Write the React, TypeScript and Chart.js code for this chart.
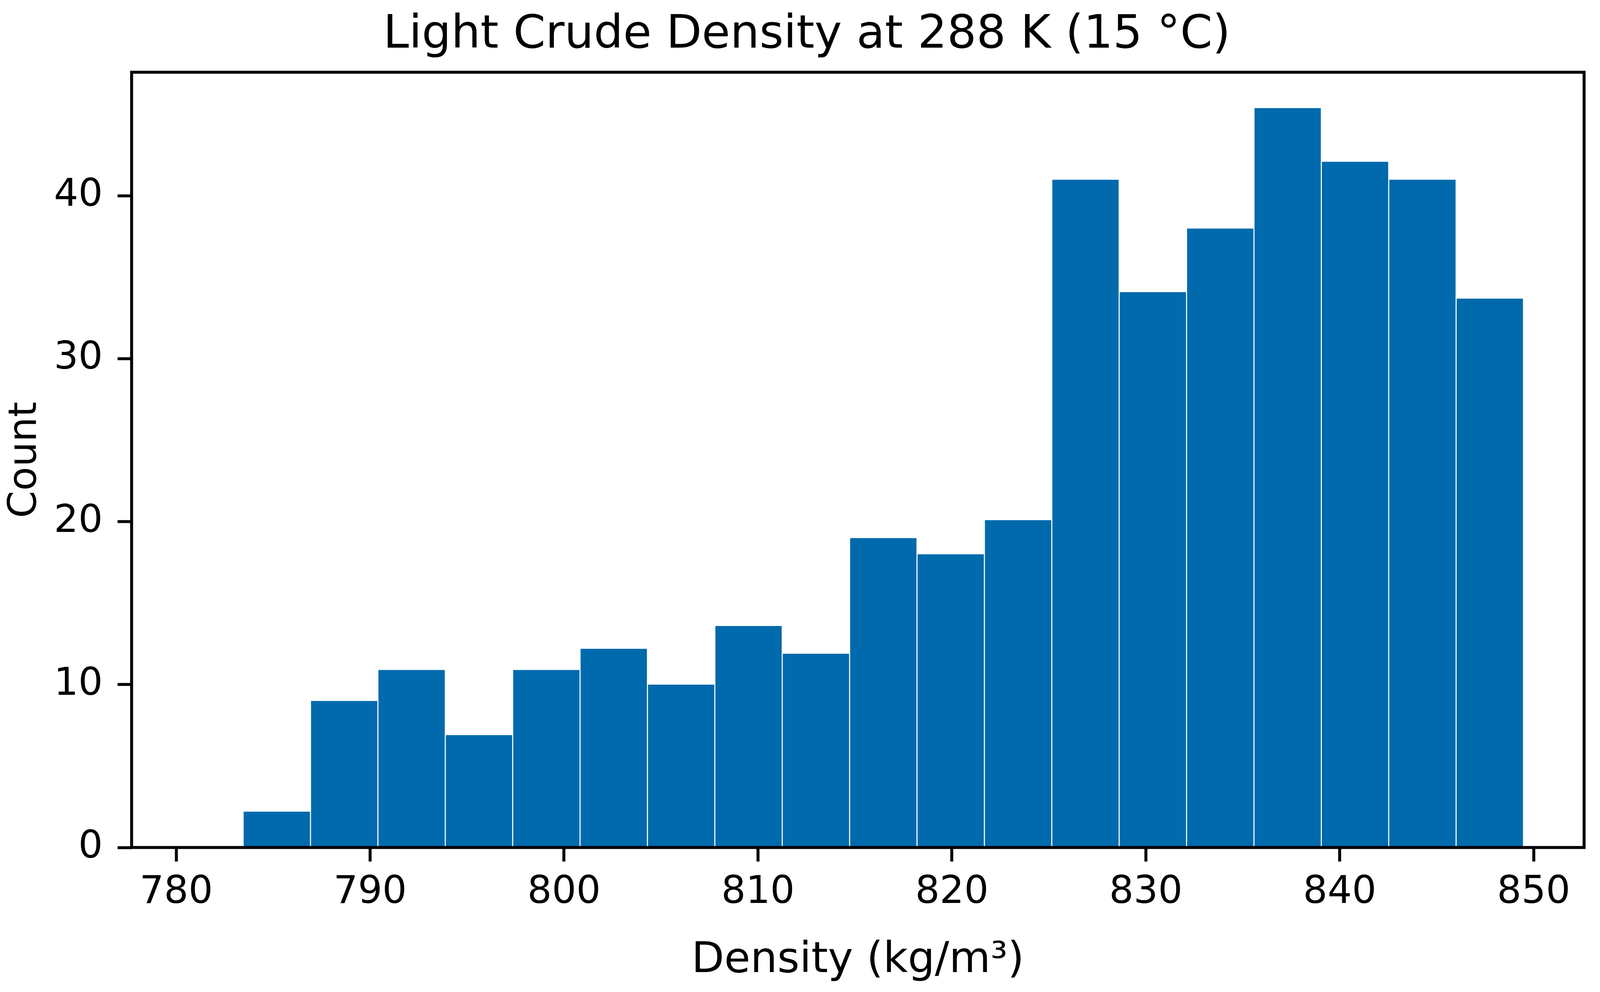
import { useEffect, useRef } from "react"
import { Chart, registerables } from "chart.js"

Chart.register(...registerables)

// histogram bins (kg/m3), 19 bins
const binEdges = [
  783.45, 786.925, 790.4, 793.875, 797.35, 800.825, 804.3, 807.775, 811.25, 814.725,
  818.2, 821.675, 825.15, 828.625, 832.1, 835.575, 839.05, 842.525, 846.0, 849.475,
]
const counts = [
  2.2, 9.0, 10.9, 6.9, 10.9, 12.2, 10.0, 13.6, 11.9, 19.0,
  18.0, 20.1, 41.0, 34.1, 38.0, 45.4, 42.1, 41.0, 33.7,
]
const xTicks = [780, 790, 800, 810, 820, 830, 840, 850]
const yTicks = [0, 10, 20, 30, 40]

// reference frame size the layout numbers below were measured in
const W = 4328
const H = 2540

const DensityHistogram = () => {
  const boxRef = useRef<HTMLDivElement>(null)
  const chartRef = useRef<HTMLCanvasElement>(null)
  const chartInstance = useRef<Chart | null>(null)

  useEffect(() => {
    document.body.style.margin = "0"
    document.documentElement.style.overflow = "hidden"
    if (!chartRef.current || !boxRef.current) return

    if (chartInstance.current) {
      chartInstance.current.destroy()
    }

    const ctx = chartRef.current.getContext("2d")
    if (!ctx) return

    // scale measured sizes to whatever the page actually is
    const sx = boxRef.current.clientWidth / W
    const sy = boxRef.current.clientHeight / H
    const k = Math.min(sx, sy)

    const centers = counts.map((_, i) => (binEdges[i] + binEdges[i + 1]) / 2)

    const framePlugin = {
      id: "frame",
      afterDatasetsDraw(chart: Chart) {
        const { left, top, right, bottom } = chart.chartArea
        const c = chart.ctx
        c.save()
        c.strokeStyle = "#000000"
        c.lineWidth = 8 * k
        c.strokeRect(left, top, right - left, bottom - top)
        c.restore()
      },
    }

    const yTitleSize = 106 * k
    // left padding pushes the centred title a bit right, like the reference
    const padLeft = 80 * sx

    chartInstance.current = new Chart(ctx, {
      type: "bar",
      data: {
        datasets: [
          {
            label: "Count",
            data: counts.map((c, i) => ({ x: centers[i], y: c })),
            backgroundColor: "#006aad",
            borderColor: "#ffffff",
            borderWidth: { left: 1.8 * k, right: 1.8 * k, top: 0, bottom: 0 },
            barPercentage: 1,
            categoryPercentage: 1,
          },
        ],
      },
      options: {
        responsive: true,
        maintainAspectRatio: false,
        animation: false,
        events: [],
        layout: { padding: { left: padLeft, right: 43 * sx, top: 0, bottom: 0 } },
        plugins: {
          legend: { display: false },
          tooltip: { enabled: false },
          title: {
            display: true,
            text: "Light Crude Density at 288 K (15 °C)",
            color: "#000000",
            font: { family: "DejaVu Sans", size: 125 * k, weight: "normal", lineHeight: 1.2 },
            padding: { top: 20 * sy, bottom: 23 * sy },
          },
        },
        scales: {
          x: {
            type: "linear",
            min: 777.7,
            max: 852.6,
            offset: false,
            afterBuildTicks: (scale) => {
              scale.ticks = xTicks.map((v) => ({ value: v }))
            },
            afterFit: (scale) => {
              scale.height = 370 * sy
            },
            ticks: {
              autoSkip: false,
              maxRotation: 0,
              padding: 21 * sy,
              color: "#000000",
              font: { family: "DejaVu Sans", size: 104 * k },
              callback: (v) => String(v),
            },
            grid: {
              offset: false,
              drawOnChartArea: false,
              drawTicks: true,
              tickLength: 38 * k,
              tickWidth: 8 * k,
              tickColor: "#000000",
            },
            border: { display: false },
            title: {
              display: true,
              text: "Density (kg/m³)",
              color: "#000000",
              font: { family: "DejaVu Sans", size: 115 * k },
              padding: { top: 0, bottom: 14 * sy },
            },
          },
          y: {
            min: 0,
            max: 47.6,
            afterBuildTicks: (scale) => {
              scale.ticks = yTicks.map((v) => ({ value: v }))
            },
            afterFit: (scale) => {
              scale.width = 356 * sx - padLeft
            },
            ticks: {
              padding: 40 * sx,
              color: "#000000",
              font: { family: "DejaVu Sans", size: 104 * k },
              callback: (v) => String(v),
            },
            grid: {
              drawOnChartArea: false,
              drawTicks: true,
              tickLength: 38 * k,
              tickWidth: 8 * k,
              tickColor: "#000000",
            },
            border: { display: false },
            title: {
              display: true,
              text: "Count",
              color: "#000000",
              font: { family: "DejaVu Sans", size: yTitleSize, lineHeight: 1.2 },
              // label centre sits ~70px from the page edge
              padding: { top: 70 * sx - padLeft - (yTitleSize * 1.2) / 2, bottom: 0 },
            },
          },
        },
      },
      plugins: [framePlugin],
    })

    return () => {
      if (chartInstance.current) {
        chartInstance.current.destroy()
        chartInstance.current = null
      }
    }
  }, [])

  return (
    <div ref={boxRef} style={{ position: "relative", width: "100vw", height: "100vh", background: "#ffffff" }}>
      <canvas ref={chartRef}></canvas>
    </div>
  )
}

export default function App() {
  return <DensityHistogram />
}
